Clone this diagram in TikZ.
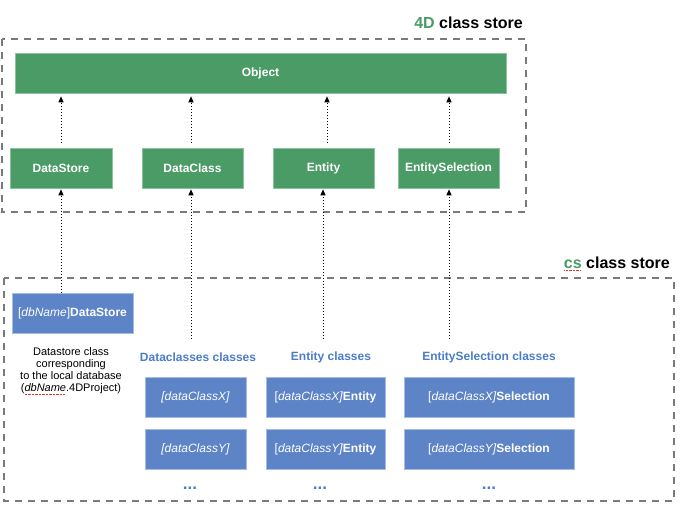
\documentclass[tikz,border=0pt]{standalone}
\usepackage{fontspec}
\setmainfont{Liberation Sans}
\usetikzlibrary{arrows.meta}
\definecolor{gfill}{HTML}{4A9B66}
\definecolor{gline}{HTML}{8CC39F}
\definecolor{bfill}{HTML}{5E84C8}
\definecolor{bline}{HTML}{A4BCE4}
\definecolor{btext}{HTML}{4A7CC9}
\definecolor{dgray}{HTML}{7A7A7A}
\definecolor{sqred}{HTML}{E03030}
\newcommand\spellmark[1]{\setbox0\hbox{#1}\rlap{\raisebox{-2.6pt}{\textcolor{sqred}{\hbox to \wd0{\leaders\hbox to 1.4pt{\hss\rule{0.7pt}{0.7pt}\hss}\hfill}}}}\box0}
\tikzset{
  gbox/.style={fill=gfill, draw=gline, line width=0.6pt, text=white, inner sep=0pt,
    minimum height=40pt, font=\bfseries\fontsize{12}{14}\selectfont},
  bbox/.style={fill=bfill, draw=bline, line width=0.6pt, text=white, inner sep=0pt,
    minimum height=40pt, font=\fontsize{12}{14}\selectfont},
  store/.style={draw=dgray, line width=1.2pt, dash pattern=on 7pt off 6pt},
  inh/.style={line width=1pt, dash pattern=on 1pt off 2pt,
    -{Triangle[length=6pt,width=5pt]}},
  head/.style={text=btext, font=\bfseries\fontsize{12}{14}\selectfont, inner sep=0pt},
  title/.style={font=\bfseries\fontsize{16}{18}\selectfont, inner sep=0pt},
  more/.style={text=btext, font=\bfseries\fontsize{17}{18}\selectfont, inner sep=0pt, anchor=base},
}
\begin{document}
\begin{tikzpicture}[x=1pt,y=-1pt]
\useasboundingbox (0,0) rectangle (683,506);
% stores
\draw[store] (2,39) rectangle (526,212);
\draw[store] (4,278) rectangle (674,501);
\node[title, anchor=east] (t4d) at (523,23) {\textcolor{gfill}{4D} class store};
\node[title, anchor=east] (tcs) at (670,264) {\textcolor{gfill}{\spellmark{cs}} class store};
% 4D classes
\node[gbox, minimum width=491pt] (obj) at (260.5,73) {Object};
\node[gbox, minimum width=102pt] (ds) at (61,168) {DataStore};
\node[gbox, minimum width=101pt] (dc) at (192.5,168) {DataClass};
\node[gbox, minimum width=101pt] (en) at (323.5,168) {Entity};
\node[gbox, minimum width=101pt] (es) at (448.5,168) {EntitySelection};
\draw[inh, shorten <=5pt, shorten >=3pt] (ds.north) -- (ds.north |- obj.south);
\draw[inh, shorten <=5pt, shorten >=3pt] ([xshift=-1.5pt]dc.north) -- ([xshift=-1.5pt]dc.north |- obj.south);
\draw[inh, shorten <=5pt, shorten >=3pt] ([xshift=3.5pt]en.north) -- ([xshift=3.5pt]en.north |- obj.south);
\draw[inh, shorten <=5pt, shorten >=3pt] ([xshift=0.5pt]es.north) -- ([xshift=0.5pt]es.north |- obj.south);
% cs classes
\node[bbox, minimum width=121pt] (dbds) at (72.5,313) {[\textit{dbName}]\textbf{DataStore}};
\node[align=center, inner sep=0pt, font=\fontsize{11}{12}\selectfont] (desc) at (71,371)
  {Datastore class\\corresponding\\to the local database\\(\spellmark{\textit{dbName}}.4DProject)};
\node[head] (hdc) at (198,357) {Dataclasses classes};
\node[head] (hen) at (331,357) {Entity classes};
\node[head] (hes) at (489,357) {EntitySelection classes};
\node[bbox, minimum width=101pt] (dcx) at (195.5,397) {\textit{[dataClassX]}};
\node[bbox, minimum width=101pt] (dcy) at (195.5,449) {\textit{[dataClassY]}};
\node[bbox, minimum width=119pt] (enx) at (325.5,397) {[\textit{dataClassX]}\textbf{Entity}};
\node[bbox, minimum width=119pt] (eny) at (325.5,449) {[\textit{dataClassY]}\textbf{Entity}};
\node[bbox, minimum width=170pt] (esx) at (489,397) {[\textit{dataClassX]}\textbf{Selection}};
\node[bbox, minimum width=170pt] (esy) at (489,449) {[\textit{dataClassY]}\textbf{Selection}};
\node[more] (mdc) at (190,489) {...};
\node[more] (men) at (320,489) {...};
\node[more] (mes) at (489,489) {...};
% inheritance from cs to 4D
\coordinate (cdc) at (191,339);
\coordinate (cen) at (323,339);
\coordinate (ces) at (449,339);
\draw[inh, shorten >=1pt] (dbds.north -| ds.south) -- (ds.south);
\draw[inh, shorten >=1pt] (cdc) -- (cdc |- dc.south);
\draw[inh, shorten >=1pt] (cen) -- (cen |- en.south);
\draw[inh, shorten >=1pt] (ces) -- (ces |- es.south);
\end{tikzpicture}
\end{document}
